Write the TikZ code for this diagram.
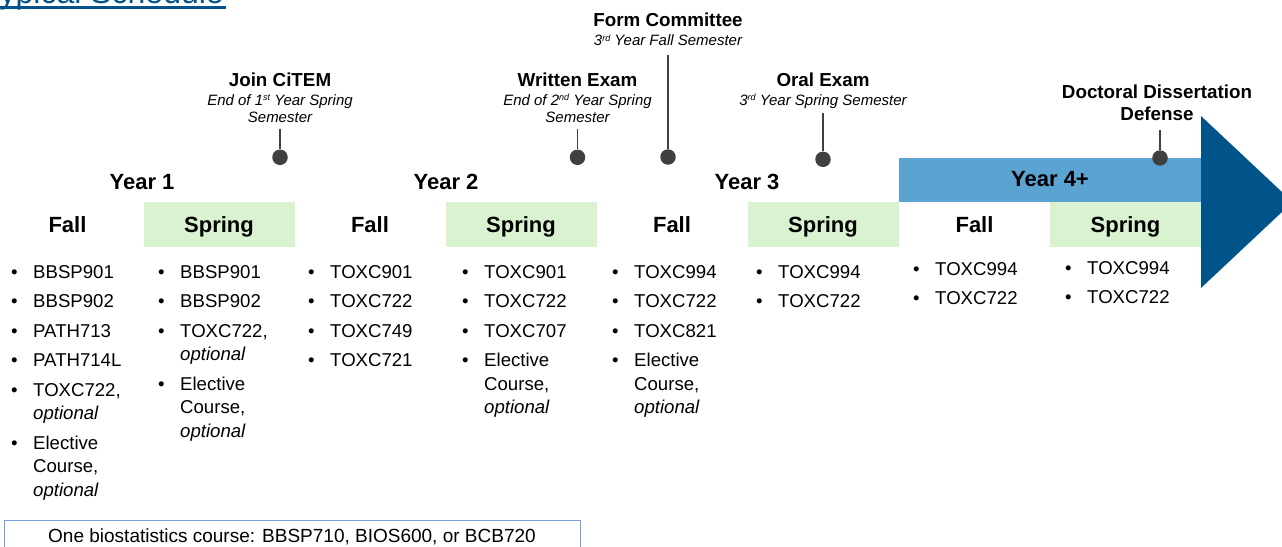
\documentclass[tikz,border=0pt]{standalone}
\usepackage{fontspec}
\setmainfont{Liberation Sans}
\usetikzlibrary{positioning}

\definecolor{navy}{HTML}{005489}
\definecolor{barblue}{HTML}{5BA3D0}
\definecolor{springgreen}{HTML}{D9F2D0}
\definecolor{stemgray}{HTML}{404040}
\definecolor{boxblue}{HTML}{7A9FD8}
\newcommand{\fsz}[1]{\fontsize{#1}{#1}\selectfont}
\newcommand{\sups}[1]{\raisebox{4.5pt}{\fontsize{9}{9}\selectfont #1}}

\tikzset{
  semester/.style={inner sep=0, minimum width=151pt, minimum height=45pt, text depth=0pt, font=\fsz{22}\bfseries},
  spring/.style={semester, fill=springgreen},
  yearlabel/.style={inner sep=0, text depth=0pt, font=\fsz{22}\bfseries},
  mtitle/.style={anchor=base, inner sep=0, font=\fontsize{18.8}{22.5}\selectfont\bfseries, align=center},
  msub/.style={inner sep=0, font=\fontsize{15}{17}\selectfont\itshape, align=center},
  mdot/.style={circle, fill=stemgray, inner sep=0, minimum size=15.5pt},
  stem/.style={draw=stemgray, line width=1.75pt},
  courses/.style={anchor=base west, inner sep=0, font=\fontsize{18.6}{23.5}\selectfont},
}

\begin{document}
\begin{tikzpicture}[x=1pt, y=-1pt]
    \useasboundingbox (0,0) rectangle (1282,546);
    \clip (0,0) rectangle (1282,546);

    \node[anchor=base east, inner sep=0, font=\fsz{32}, text=navy] (title) at (224,3) {Typical Schedule};
    \draw[navy, line width=3pt] ([yshift=-4pt]title.base west) -- ([xshift=2pt, yshift=-4pt]title.base east);

    % year 4+ bar and arrow head
    \fill[barblue] (899,158) rectangle (1201,202);
    \fill[navy] (1201,116) -- (1292.6,202) -- (1201,288) -- cycle;

    \node[yearlabel] (year1) at (142,181.5) {Year 1};
    \node[yearlabel] (year2) at (446,181.5) {Year 2};
    \node[yearlabel] (year3) at (747,181.5) {Year 3};
    \node[yearlabel] (year4) at (1050,178.5) {Year 4+};

    \node[semester] (fall1) at (67.5,224.5) {Fall};
    \node[spring] (spring1) at (219,224.5) {Spring};
    \node[semester] (fall2) at (370,224.5) {Fall};
    \node[spring] (spring2) at (521,224.5) {Spring};
    \node[semester] (fall3) at (672,224.5) {Fall};
    \node[spring] (spring3) at (823,224.5) {Spring};
    \node[semester] (fall4) at (974.5,224.5) {Fall};
    \node[spring] (spring4) at (1125.5,224.5) {Spring};

    \node[mtitle] (citem) at (280,86.7) {Join CiTEM};
    \node[msub, below=7.5pt of citem.base] (citemsub) {End of 1\sups{st} Year Spring\\Semester};
    \node[mdot] (citemdot) at (280,157.3) {};
    \draw[stem, shorten <=6pt] (citemsub) -- (citemdot);

    \node[mtitle] (written) at (577.5,86.7) {Written Exam};
    \node[msub, below=7.5pt of written.base] (writtensub) {End of 2\sups{nd} Year Spring\\Semester};
    \node[mdot] (writtendot) at (577.5,157.3) {};
    \draw[stem, shorten <=6pt] (writtensub) -- (writtendot);

    \node[mtitle] (form) at (668,27) {Form Committee};
    \node[msub, below=7.5pt of form.base] (formsub) {3\sups{rd} Year Fall Semester};
    \node[mdot] (formdot) at (668,157) {};
    \draw[stem, shorten <=9pt] (formsub) -- (formdot);

    \node[mtitle] (oral) at (823,86) {Oral Exam};
    \node[msub, below=8pt of oral.base] (oralsub) {3\sups{rd} Year Spring Semester};
    \node[mdot] (oraldot) at (823,159.3) {};
    \draw[stem, shorten <=4pt] (oralsub) -- (oraldot);

    \node[mtitle, anchor=south] (defense) at (1157,121) {Doctoral Dissertation\\Defense};
    \node[mdot] (defensedot) at (1160,158) {};
    \draw[stem, shorten <=9pt] (defense.south -| defensedot) -- (defensedot);

    \node[courses] (list1) at (10.8,278) {\begin{tabular}[t]{@{}l@{\hspace{15.7pt}}l@{}}
      \textbullet & BBSP901\\[6pt]
      \textbullet & BBSP902\\[6pt]
      \textbullet & PATH713\\[6pt]
      \textbullet & PATH714L\\[6pt]
      \textbullet & TOXC722,\\ & \textit{optional}\\[6pt]
      \textbullet & Elective\\ & Course,\\ & \textit{optional}
    \end{tabular}};
    \node[courses] (list2) at (157.8,278) {\begin{tabular}[t]{@{}l@{\hspace{15.7pt}}l@{}}
      \textbullet & BBSP901\\[6pt]
      \textbullet & BBSP902\\[6pt]
      \textbullet & TOXC722,\\ & \textit{optional}\\[6pt]
      \textbullet & Elective\\ & Course,\\ & \textit{optional}
    \end{tabular}};
    \node[courses] (list3) at (307.8,278) {\begin{tabular}[t]{@{}l@{\hspace{15.7pt}}l@{}}
      \textbullet & TOXC901\\[6pt]
      \textbullet & TOXC722\\[6pt]
      \textbullet & TOXC749\\[6pt]
      \textbullet & TOXC721
    \end{tabular}};
    \node[courses] (list4) at (461.8,278) {\begin{tabular}[t]{@{}l@{\hspace{15.7pt}}l@{}}
      \textbullet & TOXC901\\[6pt]
      \textbullet & TOXC722\\[6pt]
      \textbullet & TOXC707\\[6pt]
      \textbullet & Elective\\ & Course,\\ & \textit{optional}
    \end{tabular}};
    \node[courses] (list5) at (611.8,278) {\begin{tabular}[t]{@{}l@{\hspace{15.7pt}}l@{}}
      \textbullet & TOXC994\\[6pt]
      \textbullet & TOXC722\\[6pt]
      \textbullet & TOXC821\\[6pt]
      \textbullet & Elective\\ & Course,\\ & \textit{optional}
    \end{tabular}};
    \node[courses] (list6) at (755.8,278) {\begin{tabular}[t]{@{}l@{\hspace{15.7pt}}l@{}}
      \textbullet & TOXC994\\[6pt]
      \textbullet & TOXC722
    \end{tabular}};
    \node[courses] (list7) at (912.8,275) {\begin{tabular}[t]{@{}l@{\hspace{15.7pt}}l@{}}
      \textbullet & TOXC994\\[6pt]
      \textbullet & TOXC722
    \end{tabular}};
    \node[courses] (list8) at (1064.8,274) {\begin{tabular}[t]{@{}l@{\hspace{15.7pt}}l@{}}
      \textbullet & TOXC994\\[6pt]
      \textbullet & TOXC722
    \end{tabular}};

    \node[draw=boxblue, line width=1pt, inner sep=0, minimum width=576pt, minimum height=32pt, text depth=0pt, font=\fsz{19}] (biostat) at (292,536) {One biostatistics course: BBSP710, BIOS600, or BCB720};
\end{tikzpicture}
\end{document}
